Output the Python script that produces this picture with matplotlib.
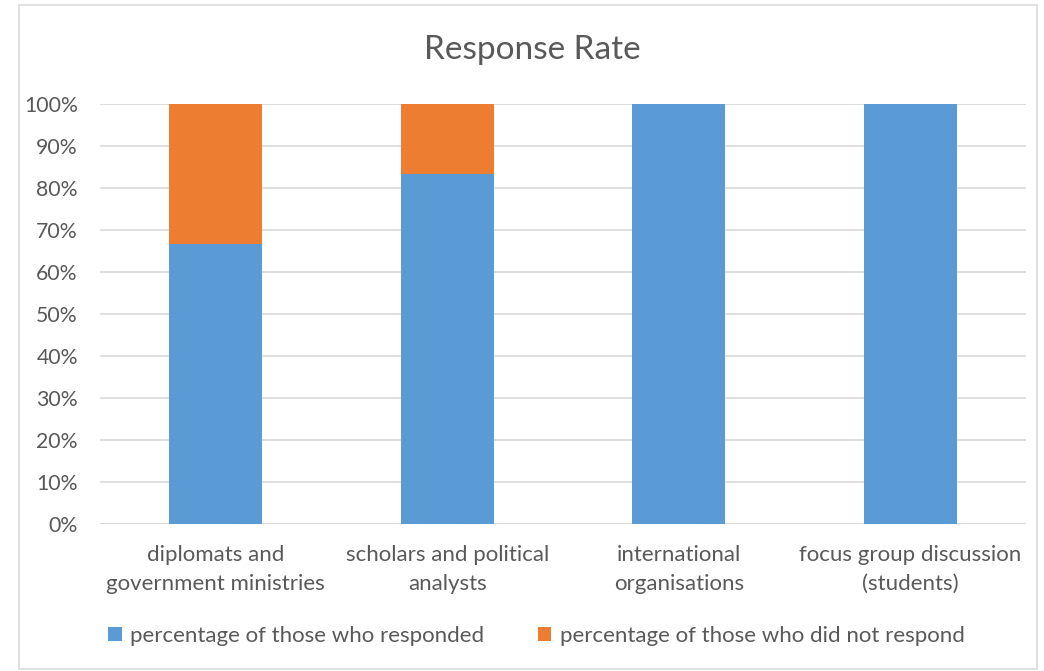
import numpy as np
import matplotlib.pyplot as plt
from matplotlib.patches import Rectangle

categories = [
    "diplomats and\ngovernment ministries",
    "scholars and political\nanalysts",
    "international\norganisations",
    "focus group discussion\n(students)",
]
responded = [66.67, 83.33, 100.0, 100.0]
not_responded = [33.33, 16.67, 0.0, 0.0]
series_names = [
    "percentage of those who responded",
    "percentage of those who did not respond",
]

BLUE = "#5b9bd5"
ORANGE = "#ed7d31"
TEXT = "#595959"
GRID = "#d9d9d9"

plt.rcParams["font.family"] = ["Lato", "DejaVu Sans"]

fig = plt.figure(figsize=(10.44, 6.71), dpi=100)
ax = fig.add_axes([0.0958, 0.219, 0.887, 0.626])

x = np.arange(len(categories))
ax.bar(x, responded, width=0.4, color=BLUE, label=series_names[0], zorder=3)
ax.bar(x, not_responded, width=0.4, bottom=responded, color=ORANGE,
       label=series_names[1], zorder=3)

ax.set_xlim(-0.5, len(categories) - 0.5)
ax.set_ylim(0, 100)
ax.set_yticks(np.arange(0, 101, 10))
ax.set_yticklabels([f"{v}%" for v in range(0, 101, 10)], fontsize=15.3)
ax.set_xticks(x)
ax.set_xticklabels(categories, linespacing=1.55, fontsize=16)
ax.tick_params(axis="both", length=0, colors=TEXT)
ax.tick_params(axis="x", pad=15)
ax.tick_params(axis="y", pad=16)
ax.grid(axis="y", color=GRID, linewidth=1.2, zorder=0)
for s in ax.spines.values():
    s.set_visible(False)
ax.axhline(0, color=GRID, linewidth=1.2, zorder=2)

fig.text(0.51, 0.926, "Response Rate", ha="center", va="center",
         fontsize=24, color=TEXT)

leg = fig.legend(loc="center", bbox_to_anchor=(0.514, 0.052), ncol=2,
                 frameon=False, fontsize=16, handlelength=0.6,
                 handleheight=0.6, handletextpad=0.4, columnspacing=2.4)
for t in leg.get_texts():
    t.set_color(TEXT)

fig.patches.append(Rectangle((0.018, 0.003), 0.975, 0.99, transform=fig.transFigure,
                             fill=False, edgecolor=GRID, linewidth=1.2))

fig.savefig("out.png", dpi=100)
